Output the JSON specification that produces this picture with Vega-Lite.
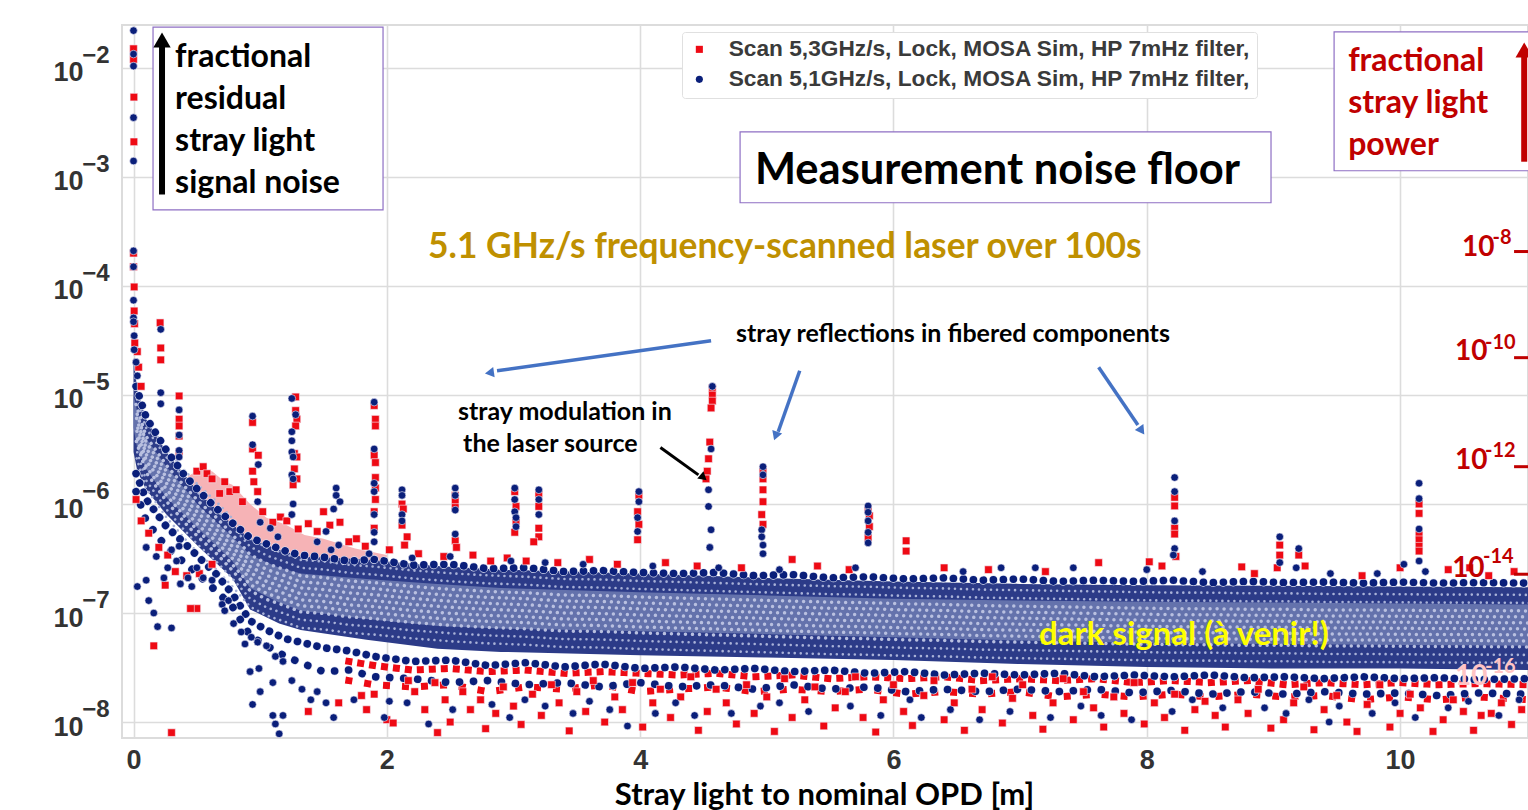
{"$schema":"https://vega.github.io/schema/vega-lite/v6.json","width":1406,"height":713,"autosize":{"type":"none"},"padding":{"left":122,"top":25,"right":0,"bottom":72},"background":"white",
"config":{"view":{"stroke":"#dcdcdc","strokeWidth":2},"font":"Lato"},
"datasets":{
"band":[{"x":0.0,"hi":2.2e-5,"lo":3e-6,"ih":1e-5,"il":5e-6},{"x":0.03,"hi":1.1e-5,"lo":2e-6,"ih":7e-6,"il":3.2e-6},{"x":0.1,"hi":6e-6,"lo":1.35e-6,"ih":4e-6,"il":2.1e-6},{"x":0.26,"hi":3e-6,"lo":8e-7,"ih":2.2e-6,"il":1.15e-6},{"x":0.52,"hi":1.25e-6,"lo":4e-7,"ih":9.5e-7,"il":5.8e-7},{"x":0.78,"hi":6.5e-7,"lo":2.1e-7,"ih":5e-7,"il":3e-7},{"x":0.92,"hi":4.8e-7,"lo":1.08e-7,"ih":3.4e-7,"il":1.7e-7},{"x":1.15,"hi":3.8e-7,"lo":8e-8,"ih":2.6e-7,"il":1.25e-7},{"x":1.32,"hi":3.3e-7,"lo":7e-8,"ih":2.3e-7,"il":1.05e-7},{"x":1.84,"hi":3.1e-7,"lo":5.7e-8,"ih":2.05e-7,"il":8.8e-8},{"x":2.4,"hi":2.7e-7,"lo":4.7e-8,"ih":1.85e-7,"il":7.6e-8},{"x":2.9,"hi":2.5e-7,"lo":4.4e-8,"ih":1.7e-7,"il":7.2e-8},{"x":4,"hi":2.3e-7,"lo":4.1e-8,"ih":1.55e-7,"il":6.8e-8},{"x":5,"hi":2.1e-7,"lo":3.9e-8,"ih":1.45e-7,"il":6.4e-8},{"x":6,"hi":1.95e-7,"lo":3.7e-8,"ih":1.35e-7,"il":6e-8},{"x":7,"hi":1.85e-7,"lo":3.4e-8,"ih":1.3e-7,"il":5.6e-8},{"x":8,"hi":1.8e-7,"lo":3.2e-8,"ih":1.27e-7,"il":5.3e-8},{"x":9,"hi":1.78e-7,"lo":3.1e-8,"ih":1.25e-7,"il":5.2e-8},{"x":10,"hi":1.75e-7,"lo":3.1e-8,"ih":1.22e-7,"il":5.1e-8},{"x":11.02,"hi":1.72e-7,"lo":3e-8,"ih":1.2e-7,"il":5e-8}],
"st":[{"x":0.02,"m":5.6e-6,"u":1.2e-5,"f1":1.9e-6,"f2":1.3e-6},{"x":0.1,"m":2.85e-6,"u":6.2e-6,"f1":1.1e-6,"f2":7e-7},{"x":0.26,"m":1.55e-6,"u":3.1e-6,"f1":6.2e-7,"f2":4e-7},{"x":0.4,"m":1e-6,"u":1.85e-6,"f1":4.4e-7,"f2":2.9e-7},{"x":0.52,"m":7.1e-7,"u":1.3e-6,"f1":3.2e-7,"f2":2.2e-7},{"x":0.65,"m":5.2e-7,"u":9.2e-7,"f1":2.3e-7,"f2":1.6e-7},{"x":0.78,"m":3.6e-7,"u":6.7e-7,"f1":1.5e-7,"f2":1.15e-7},{"x":0.92,"m":2.35e-7,"u":4.9e-7,"f1":8.5e-8,"f2":6.2e-8},{"x":1.05,"m":1.95e-7,"u":4.3e-7,"f1":7e-8,"f2":5e-8},{"x":1.2,"m":1.7e-7,"u":3.7e-7,"f1":5.8e-8,"f2":4e-8},{"x":1.32,"m":1.5e-7,"u":3.4e-7,"f1":5.4e-8,"f2":3.5e-8},{"x":1.5,"m":1.45e-7,"u":3.25e-7,"f1":4.8e-8,"f2":2.9e-8},{"x":1.7,"m":1.35e-7,"u":3e-7,"f1":4.5e-8,"f2":3e-8,"r1":3.6e-8,"r2":2.4e-8},{"x":1.9,"m":1.3e-7,"u":3.1e-7,"f1":4e-8,"f2":2.6e-8,"r1":3.3e-8,"r2":2.2e-8},{"x":2.2,"m":1.2e-7,"u":2.75e-7,"f1":3.6e-8,"f2":2.5e-8,"r1":3e-8,"r2":2.1e-8},{"x":2.5,"m":1.13e-7,"u":2.8e-7,"f1":3.7e-8,"f2":2.3e-8,"r1":3.1e-8,"r2":2.2e-8},{"x":2.8,"m":1.08e-7,"u":2.55e-7,"f1":3.3e-8,"f2":2.4e-8,"r1":2.9e-8,"r2":1.9e-8},{"x":3.1,"m":1.05e-7,"u":2.6e-7,"f1":3.5e-8,"f2":2.2e-8,"r1":3e-8,"r2":2.1e-8},{"x":3.4,"m":1e-7,"u":2.4e-7,"f1":3.2e-8,"f2":2.3e-8,"r1":2.8e-8,"r2":2e-8},{"x":3.7,"m":9.9e-8,"u":2.45e-7,"f1":3.4e-8,"f2":2.1e-8,"r1":2.9e-8,"r2":2.2e-8},{"x":4,"m":9.6e-8,"u":2.35e-7,"f1":3.1e-8,"f2":2.3e-8,"r1":2.8e-8,"r2":1.9e-8},{"x":4.3,"m":9.4e-8,"u":2.3e-7,"f1":3.2e-8,"f2":2.1e-8,"r1":2.7e-8,"r2":2e-8},{"x":4.6,"m":9.2e-8,"u":2.35e-7,"f1":3e-8,"f2":2.2e-8,"r1":2.8e-8,"r2":2.1e-8},{"x":4.9,"m":9e-8,"u":2.2e-7,"f1":3.1e-8,"f2":2e-8,"r1":2.6e-8,"r2":1.9e-8},{"x":5.2,"m":8.8e-8,"u":2.25e-7,"f1":2.9e-8,"f2":2.2e-8,"r1":2.7e-8,"r2":2e-8},{"x":5.5,"m":8.6e-8,"u":2.1e-7,"f1":3e-8,"f2":2e-8,"r1":2.5e-8,"r2":1.9e-8},{"x":5.8,"m":8.5e-8,"u":2.15e-7,"f1":2.8e-8,"f2":2.1e-8,"r1":2.6e-8,"r2":2e-8},{"x":6.1,"m":8.3e-8,"u":2.05e-7,"f1":2.9e-8,"f2":1.9e-8,"r1":2.5e-8,"r2":1.8e-8},{"x":6.4,"m":8.2e-8,"u":2.1e-7,"f1":2.7e-8,"f2":2e-8,"r1":2.6e-8,"r2":1.9e-8},{"x":6.7,"m":8e-8,"u":2e-7,"f1":2.8e-8,"f2":1.9e-8,"r1":2.4e-8,"r2":1.8e-8},{"x":7,"m":7.9e-8,"u":2.05e-7,"f1":2.7e-8,"f2":2e-8,"r1":2.5e-8,"r2":1.9e-8},{"x":7.3,"m":7.8e-8,"u":1.95e-7,"f1":2.8e-8,"f2":1.9e-8,"r1":2.4e-8,"r2":1.7e-8},{"x":7.6,"m":7.7e-8,"u":2e-7,"f1":2.6e-8,"f2":2e-8,"r1":2.5e-8,"r2":1.8e-8},{"x":7.9,"m":7.6e-8,"u":1.95e-7,"f1":2.7e-8,"f2":1.85e-8,"r1":2.3e-8,"r2":1.7e-8},{"x":8.2,"m":7.5e-8,"u":2e-7,"f1":2.6e-8,"f2":1.95e-8,"r1":2.4e-8,"r2":1.8e-8},{"x":8.5,"m":7.5e-8,"u":1.9e-7,"f1":2.7e-8,"f2":1.8e-8,"r1":2.3e-8,"r2":1.7e-8},{"x":8.8,"m":7.4e-8,"u":1.95e-7,"f1":2.55e-8,"f2":1.9e-8,"r1":2.4e-8,"r2":1.8e-8},{"x":9.1,"m":7.4e-8,"u":1.9e-7,"f1":2.6e-8,"f2":1.8e-8,"r1":2.2e-8,"r2":1.7e-8},{"x":9.4,"m":7.3e-8,"u":1.92e-7,"f1":2.5e-8,"f2":1.9e-8,"r1":2.3e-8,"r2":1.75e-8},{"x":9.7,"m":7.3e-8,"u":1.88e-7,"f1":2.6e-8,"f2":1.8e-8,"r1":2.2e-8,"r2":1.6e-8},{"x":10,"m":7.25e-8,"u":1.92e-7,"f1":2.5e-8,"f2":1.85e-8,"r1":2.3e-8,"r2":1.7e-8},{"x":10.3,"m":7.2e-8,"u":1.88e-7,"f1":2.55e-8,"f2":1.75e-8,"r1":2.2e-8,"r2":1.6e-8},{"x":10.6,"m":7.2e-8,"u":1.9e-7,"f1":2.45e-8,"f2":1.85e-8,"r1":2.25e-8,"r2":1.7e-8},{"x":11.02,"m":7.15e-8,"u":1.88e-7,"f1":2.5e-8,"f2":1.8e-8,"r1":2.2e-8,"r2":1.6e-8}],
"pink":[{"x":0.4,"hi":1.7e-6,"lo":1.2e-6},{"x":0.52,"hi":2.1e-6,"lo":1e-6},{"x":0.62,"hi":2e-6,"lo":8e-7},{"x":0.72,"hi":1.6e-6,"lo":6e-7},{"x":0.78,"hi":1.5e-6,"lo":5e-7},{"x":0.92,"hi":1e-6,"lo":4e-7},{"x":1.05,"hi":7.5e-7,"lo":3.5e-7},{"x":1.2,"hi":6.5e-7,"lo":3.2e-7},{"x":1.35,"hi":5.2e-7,"lo":3e-7},{"x":1.5,"hi":4.8e-7,"lo":2.9e-7},{"x":1.75,"hi":3.9e-7,"lo":2.8e-7},{"x":2,"hi":3.4e-7,"lo":2.6e-7}],
"pts":[
{"x":0,"y":1.5e-2,"s":"r"},{"x":0,"y":1.2e-2,"s":"r"},{"x":0.003,"y":5.4e-3,"s":"r"},{"x":0.003,"y":2.1e-3,"s":"r"},{"x":0,"y":2e-4,"s":"r"},{"x":0,"y":1.5e-4,"s":"r"},{"x":0.005,"y":9.8e-5,"s":"r"},{"x":0.005,"y":5.9e-5,"s":"r"},{"x":0.008,"y":4.5e-5,"s":"r"},{"x":0.01,"y":3e-5,"s":"r"},{"x":0.03,"y":2.5e-5,"s":"r"},{"x":0.04,"y":1.8e-5,"s":"r"},{"x":0.06,"y":1.2e-5,"s":"r"},
{"x":0.21,"y":4.6e-5,"s":"r"},{"x":0.215,"y":2.7e-5,"s":"r"},{"x":0.215,"y":2.1e-5,"s":"r"},{"x":0.36,"y":9.8e-6,"s":"r"},{"x":0.36,"y":6e-6,"s":"r"},{"x":0.36,"y":5.2e-6,"s":"r"},{"x":0.36,"y":4.2e-6,"s":"r"},{"x":0.36,"y":3e-6,"s":"r"},{"x":0.94,"y":5.6e-6,"s":"r"},{"x":0.94,"y":3.2e-6,"s":"r"},{"x":0.985,"y":2.8e-6,"s":"r"},{"x":0.94,"y":2e-6,"s":"r"},{"x":0.95,"y":1.6e-6,"s":"r"},{"x":0.98,"y":1.3e-6,"s":"r"},{"x":1.28,"y":9.6e-6,"s":"r"},{"x":1.28,"y":7.2e-6,"s":"r"},{"x":1.29,"y":6e-6,"s":"r"},{"x":1.28,"y":5.2e-6,"s":"r"},{"x":1.27,"y":2.9e-6,"s":"r"},{"x":1.29,"y":2.7e-6,"s":"r"},{"x":1.27,"y":2.1e-6,"s":"r"},{"x":1.29,"y":1.7e-6,"s":"r"},{"x":1.26,"y":1.5e-6,"s":"r"},
{"x":1.9,"y":8e-6,"s":"r"},{"x":1.91,"y":6e-6,"s":"r"},{"x":1.91,"y":5.2e-6,"s":"r"},{"x":1.9,"y":2.8e-6,"s":"r"},{"x":1.91,"y":2.4e-6,"s":"r"},{"x":1.91,"y":1.75e-6,"s":"r"},{"x":1.91,"y":1.4e-6,"s":"r"},{"x":1.91,"y":1.1e-6,"s":"r"},{"x":1.9,"y":8.5e-7,"s":"r"},{"x":1.9,"y":6e-7,"s":"r"},{"x":2.12,"y":1e-6,"s":"r"},{"x":2.13,"y":9e-7,"s":"r"},{"x":2.12,"y":6.4e-7,"s":"r"},{"x":2.16,"y":5e-7,"s":"r"},{"x":2.14,"y":4.2e-7,"s":"r"},{"x":2.54,"y":1.2e-6,"s":"r"},{"x":2.54,"y":1.05e-6,"s":"r"},{"x":2.54,"y":9.3e-7,"s":"r"},{"x":2.54,"y":4.6e-7,"s":"r"},{"x":2.55,"y":4e-7,"s":"r"},{"x":3.01,"y":1.3e-6,"s":"r"},{"x":3.02,"y":9.5e-7,"s":"r"},{"x":3.02,"y":7e-7,"s":"r"},{"x":3.01,"y":5.5e-7,"s":"r"},{"x":3.2,"y":1.25e-6,"s":"r"},{"x":3.2,"y":9.5e-7,"s":"r"},{"x":3.2,"y":6e-7,"s":"r"},{"x":3.2,"y":5e-7,"s":"r"},{"x":3.16,"y":4.5e-7,"s":"r"},{"x":3.99,"y":1.2e-6,"s":"r"},{"x":3.98,"y":8.5e-7,"s":"r"},{"x":3.99,"y":6.5e-7,"s":"r"},{"x":3.98,"y":4.7e-7,"s":"r"},
{"x":4.57,"y":1.15e-5,"s":"r"},{"x":4.57,"y":1e-5,"s":"r"},{"x":4.57,"y":8.8e-6,"s":"r"},{"x":4.56,"y":7.6e-6,"s":"r"},{"x":4.55,"y":3.7e-6,"s":"r"},{"x":4.54,"y":2.6e-6,"s":"r"},{"x":4.53,"y":2e-6,"s":"r"},{"x":4.52,"y":1.7e-6,"s":"r"},{"x":4.97,"y":2.05e-6,"s":"r"},{"x":4.97,"y":1.7e-6,"s":"r"},{"x":4.97,"y":1.35e-6,"s":"r"},{"x":4.97,"y":1.05e-6,"s":"r"},{"x":4.96,"y":8e-7,"s":"r"},{"x":4.97,"y":6.5e-7,"s":"r"},{"x":5.8,"y":9e-7,"s":"r"},{"x":5.81,"y":7.8e-7,"s":"r"},{"x":5.81,"y":6.2e-7,"s":"r"},{"x":5.8,"y":4.9e-7,"s":"r"},{"x":6.1,"y":4.6e-7,"s":"r"},{"x":6.1,"y":3.7e-7,"s":"r"},{"x":5.2,"y":3.1e-7,"s":"r"},
{"x":8.22,"y":1.15e-6,"s":"r"},{"x":8.22,"y":9.6e-7,"s":"r"},{"x":8.22,"y":6e-7,"s":"r"},{"x":8.22,"y":5.3e-7,"s":"r"},{"x":8.23,"y":3.3e-7,"s":"r"},{"x":9.05,"y":4.2e-7,"s":"r"},{"x":9.05,"y":3.4e-7,"s":"r"},{"x":9.03,"y":2.6e-7,"s":"r"},{"x":9.2,"y":3.4e-7,"s":"r"},{"x":9.25,"y":2.7e-7,"s":"r"},{"x":10.15,"y":1e-6,"s":"r"},{"x":10.15,"y":8.2e-7,"s":"r"},{"x":10.15,"y":5.2e-7,"s":"r"},{"x":10.15,"y":4.7e-7,"s":"r"},{"x":10.15,"y":4.1e-7,"s":"r"},{"x":10.15,"y":3.7e-7,"s":"r"},
{"x":0.5,"y":2e-6,"s":"r"},{"x":0.55,"y":2.2e-6,"s":"r"},{"x":0.58,"y":1.9e-6,"s":"r"},{"x":0.62,"y":1.7e-6,"s":"r"},{"x":0.68,"y":1.25e-6,"s":"r"},{"x":0.72,"y":1.6e-6,"s":"r"},{"x":0.76,"y":1.3e-6,"s":"r"},{"x":0.81,"y":1.35e-6,"s":"r"},{"x":0.86,"y":1.05e-6,"s":"r"},{"x":1.02,"y":8.5e-7,"s":"r"},{"x":1.1,"y":6.8e-7,"s":"r"},{"x":1.16,"y":7.6e-7,"s":"r"},{"x":1.21,"y":7e-7,"s":"r"},{"x":1.3,"y":5.9e-7,"s":"r"},{"x":1.38,"y":6.6e-7,"s":"r"},{"x":1.45,"y":5.6e-7,"s":"r"},{"x":1.5,"y":8.5e-7,"s":"r"},{"x":1.55,"y":6.4e-7,"s":"r"},{"x":1.63,"y":6.8e-7,"s":"r"},{"x":1.7,"y":4.5e-7,"s":"r"},{"x":1.76,"y":4.8e-7,"s":"r"},{"x":1.83,"y":4.1e-7,"s":"r"},{"x":2.02,"y":3.8e-7,"s":"r"},{"x":2.25,"y":3.5e-7,"s":"r"},{"x":2.45,"y":3.3e-7,"s":"r"},{"x":2.68,"y":3.4e-7,"s":"r"},{"x":2.82,"y":3e-7,"s":"r"},{"x":2.95,"y":3.2e-7,"s":"r"},{"x":3.1,"y":3e-7,"s":"r"},{"x":3.35,"y":2.9e-7,"s":"r"},{"x":3.6,"y":3.1e-7,"s":"r"},{"x":3.82,"y":2.8e-7,"s":"r"},{"x":4.2,"y":2.9e-7,"s":"r"},{"x":4.45,"y":2.7e-7,"s":"r"},{"x":4.8,"y":2.6e-7,"s":"r"},{"x":5.4,"y":2.7e-7,"s":"r"},{"x":5.65,"y":2.5e-7,"s":"r"},{"x":6.4,"y":2.6e-7,"s":"r"},{"x":6.75,"y":2.5e-7,"s":"r"},{"x":7.2,"y":2.4e-7,"s":"r"},{"x":7.62,"y":2.9e-7,"s":"r"},{"x":8.02,"y":2.95e-7,"s":"r"},{"x":8.12,"y":2.7e-7,"s":"r"},{"x":8.75,"y":2.65e-7,"s":"r"},{"x":8.85,"y":2.3e-7,"s":"r"},{"x":9.7,"y":2.2e-7,"s":"r"},{"x":10.0,"y":2.6e-7,"s":"r"},{"x":10.38,"y":2.5e-7,"s":"r"},{"x":10.55,"y":2.6e-7,"s":"r"},{"x":10.7,"y":2.2e-7,"s":"r"},{"x":10.9,"y":2.4e-7,"s":"r"},
{"x":0.02,"y":1.1e-6,"s":"r"},{"x":0.06,"y":7e-7,"s":"r"},{"x":0.12,"y":5.4e-7,"s":"r"},{"x":0.2,"y":4e-7,"s":"r"},{"x":0.27,"y":3.4e-7,"s":"r"},{"x":0.33,"y":2.4e-7,"s":"r"},{"x":0.42,"y":2.2e-7,"s":"r"},{"x":0.52,"y":2.3e-7,"s":"r"},{"x":0.62,"y":2.8e-7,"s":"r"},{"x":0.25,"y":1.8e-7,"s":"r"},{"x":0.5,"y":1.1e-7,"s":"r"},{"x":0.45,"y":1.1e-7,"s":"r"},{"x":0.16,"y":5e-8,"s":"r"},{"x":0.3,"y":8e-9,"s":"r"},
{"x":1.38,"y":1.25e-8,"s":"r"},{"x":1.62,"y":1.5e-8,"s":"r"},{"x":1.8,"y":1.75e-8,"s":"r"},{"x":1.84,"y":1.3e-8,"s":"r"},{"x":1.9,"y":1.8e-8,"s":"r"},{"x":2.0,"y":1.05e-8,"s":"r"},{"x":2.05,"y":9.8e-9,"s":"r"},{"x":2.17,"y":2.4e-8,"s":"r"},{"x":2.22,"y":1.9e-8,"s":"r"},{"x":2.3,"y":1.3e-8,"s":"r"},{"x":2.38,"y":2.3e-8,"s":"r"},{"x":2.46,"y":1.6e-8,"s":"r"},{"x":2.5,"y":1e-8,"s":"r"},{"x":2.4,"y":8e-9,"s":"r"},{"x":2.6,"y":1.9e-8,"s":"r"},{"x":2.66,"y":1.3e-8,"s":"r"},{"x":2.74,"y":1.6e-8,"s":"r"},{"x":2.78,"y":8.7e-9,"s":"r"},{"x":2.86,"y":1.2e-8,"s":"r"},{"x":2.92,"y":2.1e-8,"s":"r"},{"x":3.0,"y":1.4e-8,"s":"r"},{"x":3.06,"y":9.5e-9,"s":"r"},{"x":3.15,"y":1.8e-8,"s":"r"},{"x":3.22,"y":1.15e-8,"s":"r"},{"x":3.3,"y":2.2e-8,"s":"r"},{"x":3.36,"y":1.5e-8,"s":"r"},{"x":3.44,"y":8.3e-9,"s":"r"},{"x":3.5,"y":1.9e-8,"s":"r"},{"x":3.57,"y":1.25e-8,"s":"r"},{"x":3.63,"y":2.4e-8,"s":"r"},{"x":3.72,"y":1e-8,"s":"r"},{"x":3.8,"y":1.7e-8,"s":"r"},{"x":3.86,"y":1.3e-8,"s":"r"},{"x":3.94,"y":2.3e-8,"s":"r"},{"x":4.02,"y":9e-9,"s":"r"},{"x":4.1,"y":1.5e-8,"s":"r"},{"x":4.16,"y":2e-8,"s":"r"},{"x":4.24,"y":1.1e-8,"s":"r"},{"x":4.32,"y":1.7e-8,"s":"r"},{"x":4.4,"y":2.6e-8,"s":"r"},{"x":4.46,"y":8.4e-9,"s":"r"},{"x":4.53,"y":1.25e-8,"s":"r"},{"x":4.6,"y":2e-8,"s":"r"},{"x":4.68,"y":1.5e-8,"s":"r"},{"x":4.76,"y":9.6e-9,"s":"r"},{"x":4.84,"y":2.2e-8,"s":"r"},{"x":4.9,"y":1.2e-8,"s":"r"},{"x":5.0,"y":1.7e-8,"s":"r"},{"x":5.06,"y":8.2e-9,"s":"r"},{"x":5.14,"y":2.5e-8,"s":"r"},{"x":5.2,"y":1.1e-8,"s":"r"},{"x":5.3,"y":1.6e-8,"s":"r"},{"x":5.38,"y":2.1e-8,"s":"r"},{"x":5.45,"y":9.2e-9,"s":"r"},{"x":5.54,"y":1.35e-8,"s":"r"},{"x":5.62,"y":1.9e-8,"s":"r"},{"x":5.7,"y":2.6e-8,"s":"r"},{"x":5.76,"y":1.1e-8,"s":"r"},{"x":5.86,"y":8.1e-9,"s":"r"},{"x":5.92,"y":1.6e-8,"s":"r"},{"x":6.0,"y":2.2e-8,"s":"r"},{"x":6.08,"y":1.25e-8,"s":"r"},{"x":6.15,"y":9.3e-9,"s":"r"},{"x":6.24,"y":1.75e-8,"s":"r"},{"x":6.32,"y":2.4e-8,"s":"r"},{"x":6.4,"y":1.05e-8,"s":"r"},{"x":6.48,"y":1.5e-8,"s":"r"},{"x":6.56,"y":8.4e-9,"s":"r"},{"x":6.62,"y":2e-8,"s":"r"},{"x":6.7,"y":1.3e-8,"s":"r"},{"x":6.78,"y":2.6e-8,"s":"r"},{"x":6.86,"y":9.8e-9,"s":"r"},{"x":6.94,"y":1.65e-8,"s":"r"},{"x":7.02,"y":2.2e-8,"s":"r"},{"x":7.1,"y":1.15e-8,"s":"r"},{"x":7.18,"y":8.6e-9,"s":"r"},{"x":7.26,"y":1.5e-8,"s":"r"},{"x":7.34,"y":2.5e-8,"s":"r"},{"x":7.42,"y":1.05e-8,"s":"r"},{"x":7.5,"y":1.9e-8,"s":"r"},{"x":7.58,"y":1.35e-8,"s":"r"},{"x":7.66,"y":9e-9,"s":"r"},{"x":7.74,"y":1.7e-8,"s":"r"},{"x":7.82,"y":1.2e-8,"s":"r"},{"x":7.9,"y":2.3e-8,"s":"r"},{"x":7.98,"y":9.6e-9,"s":"r"},{"x":8.06,"y":1.5e-8,"s":"r"},{"x":8.14,"y":1.1e-8,"s":"r"},{"x":8.22,"y":1.8e-8,"s":"r"},{"x":8.3,"y":8.4e-9,"s":"r"},{"x":8.38,"y":1.3e-8,"s":"r"},{"x":8.46,"y":1.55e-8,"s":"r"},{"x":8.54,"y":1.15e-8,"s":"r"},{"x":8.62,"y":9e-9,"s":"r"},{"x":8.72,"y":1.6e-8,"s":"r"},{"x":8.8,"y":1.2e-8,"s":"r"},{"x":8.88,"y":2e-8,"s":"r"},{"x":8.98,"y":8.8e-9,"s":"r"},{"x":9.08,"y":1.05e-8,"s":"r"},{"x":9.16,"y":1.5e-8,"s":"r"},{"x":9.24,"y":2.1e-8,"s":"r"},{"x":9.32,"y":8.5e-9,"s":"r"},{"x":9.4,"y":1.3e-8,"s":"r"},{"x":9.5,"y":1.75e-8,"s":"r"},{"x":9.58,"y":1e-8,"s":"r"},{"x":9.66,"y":8.2e-9,"s":"r"},{"x":9.74,"y":1.45e-8,"s":"r"},{"x":9.84,"y":2.2e-8,"s":"r"},{"x":9.92,"y":9e-9,"s":"r"},{"x":10.0,"y":1.2e-8,"s":"r"},{"x":10.08,"y":1.8e-8,"s":"r"},{"x":10.16,"y":1.35e-8,"s":"r"},{"x":10.26,"y":8.2e-9,"s":"r"},{"x":10.34,"y":1.05e-8,"s":"r"},{"x":10.42,"y":1.6e-8,"s":"r"},{"x":10.5,"y":1.25e-8,"s":"r"},{"x":10.58,"y":8.4e-9,"s":"r"},{"x":10.64,"y":1.15e-8,"s":"r"},{"x":10.72,"y":1.2e-8,"s":"r"},{"x":10.8,"y":1.5e-8,"s":"r"},{"x":10.88,"y":9.5e-9,"s":"r"},{"x":10.96,"y":1.3e-8,"s":"r"},
{"x":0,"y":2.2e-2,"s":"b"},{"x":0,"y":1.34e-2,"s":"b"},{"x":0,"y":1.04e-2,"s":"b"},{"x":0,"y":3.5e-3,"s":"b"},{"x":0,"y":1.4e-3,"s":"b"},{"x":0,"y":2.1e-4,"s":"b"},{"x":0,"y":1.5e-4,"s":"b"},{"x":0,"y":7.4e-5,"s":"b"},{"x":0,"y":5.1e-5,"s":"b"},{"x":0,"y":4.7e-5,"s":"b"},{"x":0.005,"y":3.5e-5,"s":"b"},{"x":0.005,"y":2.6e-5,"s":"b"},{"x":0.02,"y":2e-5,"s":"b"},{"x":0.03,"y":1.5e-5,"s":"b"},{"x":0.215,"y":4e-5,"s":"b"},{"x":0.215,"y":1.05e-5,"s":"b"},{"x":0.215,"y":8.3e-6,"s":"b"},{"x":0.36,"y":7.3e-6,"s":"b"},{"x":0.36,"y":4.3e-6,"s":"b"},{"x":0.36,"y":3.1e-6,"s":"b"},{"x":0.36,"y":2.7e-6,"s":"b"},{"x":0.94,"y":6.4e-6,"s":"b"},{"x":0.94,"y":3.5e-6,"s":"b"},{"x":0.985,"y":2.3e-6,"s":"b"},{"x":0.98,"y":1.05e-6,"s":"b"},{"x":1.25,"y":9.3e-6,"s":"b"},{"x":1.28,"y":6.6e-6,"s":"b"},{"x":1.25,"y":4.6e-6,"s":"b"},{"x":1.25,"y":3.8e-6,"s":"b"},{"x":1.25,"y":3e-6,"s":"b"},{"x":1.26,"y":2.7e-6,"s":"b"},{"x":1.25,"y":1.85e-6,"s":"b"},{"x":1.26,"y":1.7e-6,"s":"b"},{"x":1.26,"y":1e-6,"s":"b"},{"x":1.25,"y":8e-7,"s":"b"},{"x":1.6,"y":1.4e-6,"s":"b"},{"x":1.6,"y":1.2e-6,"s":"b"},{"x":1.63,"y":1.05e-6,"s":"b"},{"x":1.58,"y":9e-7,"s":"b"},{"x":1.9,"y":8.6e-6,"s":"b"},{"x":1.9,"y":3.2e-6,"s":"b"},{"x":1.9,"y":1.55e-6,"s":"b"},{"x":1.9,"y":1.3e-6,"s":"b"},{"x":1.9,"y":8e-7,"s":"b"},{"x":1.9,"y":5.5e-7,"s":"b"},{"x":1.9,"y":4.5e-7,"s":"b"},{"x":2.12,"y":1.35e-6,"s":"b"},{"x":2.12,"y":1.2e-6,"s":"b"},{"x":2.12,"y":8e-7,"s":"b"},{"x":2.12,"y":7e-7,"s":"b"},{"x":2.54,"y":1.4e-6,"s":"b"},{"x":2.54,"y":1.2e-6,"s":"b"},{"x":2.54,"y":8.8e-7,"s":"b"},{"x":2.54,"y":5.3e-7,"s":"b"},{"x":3.01,"y":1.4e-6,"s":"b"},{"x":3.01,"y":1.1e-6,"s":"b"},{"x":3.01,"y":8.5e-7,"s":"b"},{"x":3.02,"y":7.5e-7,"s":"b"},{"x":3.02,"y":6.2e-7,"s":"b"},{"x":3.2,"y":1.35e-6,"s":"b"},{"x":3.2,"y":1.1e-6,"s":"b"},{"x":3.2,"y":8e-7,"s":"b"},{"x":3.99,"y":1.3e-6,"s":"b"},{"x":3.99,"y":1.05e-6,"s":"b"},{"x":3.98,"y":7.5e-7,"s":"b"},{"x":3.98,"y":5.6e-7,"s":"b"},{"x":4.57,"y":1.2e-5,"s":"b"},{"x":4.56,"y":3.2e-6,"s":"b"},{"x":4.54,"y":1.35e-6,"s":"b"},{"x":4.54,"y":9.5e-7,"s":"b"},{"x":4.56,"y":5.8e-7,"s":"b"},{"x":4.55,"y":4e-7,"s":"b"},{"x":4.97,"y":2.2e-6,"s":"b"},{"x":4.97,"y":1.85e-6,"s":"b"},{"x":4.96,"y":5.8e-7,"s":"b"},{"x":4.96,"y":5e-7,"s":"b"},{"x":4.97,"y":4.2e-7,"s":"b"},{"x":4.97,"y":3.5e-7,"s":"b"},{"x":5.8,"y":9.6e-7,"s":"b"},{"x":5.8,"y":8.4e-7,"s":"b"},{"x":5.8,"y":7e-7,"s":"b"},{"x":5.8,"y":5.5e-7,"s":"b"},{"x":5.8,"y":4.4e-7,"s":"b"},{"x":8.22,"y":1.75e-6,"s":"b"},{"x":8.22,"y":1.3e-6,"s":"b"},{"x":8.22,"y":7e-7,"s":"b"},{"x":8.22,"y":3.9e-7,"s":"b"},{"x":8.21,"y":3.4e-7,"s":"b"},{"x":9.05,"y":5e-7,"s":"b"},{"x":9.05,"y":2.9e-7,"s":"b"},{"x":9.2,"y":3.9e-7,"s":"b"},{"x":9.18,"y":2.6e-7,"s":"b"},{"x":10.15,"y":1.55e-6,"s":"b"},{"x":10.15,"y":1.12e-6,"s":"b"},{"x":10.15,"y":5.9e-7,"s":"b"},{"x":10.15,"y":3e-7,"s":"b"},{"x":10.03,"y":2.8e-7,"s":"b"},{"x":10.2,"y":2.4e-7,"s":"b"},
{"x":1.0,"y":6.8e-7,"s":"b"},{"x":1.08,"y":6e-7,"s":"b"},{"x":1.14,"y":5e-7,"s":"b"},{"x":1.45,"y":4.5e-7,"s":"b"},{"x":1.52,"y":5.6e-7,"s":"b"},{"x":1.56,"y":3.8e-7,"s":"b"},{"x":1.62,"y":4.2e-7,"s":"b"},{"x":1.86,"y":3.5e-7,"s":"b"},{"x":2.2,"y":3.2e-7,"s":"b"},{"x":2.5,"y":3.3e-7,"s":"b"},{"x":2.98,"y":3e-7,"s":"b"},{"x":3.25,"y":2.9e-7,"s":"b"},{"x":3.55,"y":2.8e-7,"s":"b"},{"x":4.1,"y":2.7e-7,"s":"b"},{"x":4.62,"y":2.6e-7,"s":"b"},{"x":5.1,"y":2.5e-7,"s":"b"},{"x":5.7,"y":2.6e-7,"s":"b"},{"x":6.55,"y":2.4e-7,"s":"b"},{"x":6.85,"y":2.6e-7,"s":"b"},{"x":7.12,"y":2.6e-7,"s":"b"},{"x":7.42,"y":2.6e-7,"s":"b"},{"x":8.0,"y":2.5e-7,"s":"b"},{"x":8.44,"y":2.4e-7,"s":"b"},{"x":9.45,"y":2.3e-7,"s":"b"},{"x":9.82,"y":2.3e-7,"s":"b"},
{"x":0.1,"y":4e-7,"s":"b"},{"x":0.18,"y":3.3e-7,"s":"b"},{"x":0.3,"y":3.8e-7,"s":"b"},{"x":0.36,"y":4.1e-7,"s":"b"},{"x":0.34,"y":3e-7,"s":"b"},{"x":0.27,"y":2.6e-7,"s":"b"},{"x":0.24,"y":2.1e-7,"s":"b"},{"x":0.37,"y":1.85e-7,"s":"b"},{"x":0.43,"y":2.1e-7,"s":"b"},{"x":0.46,"y":1.75e-7,"s":"b"},{"x":0.5,"y":2.6e-7,"s":"b"},{"x":0.55,"y":2.1e-7,"s":"b"},{"x":0.62,"y":2e-7,"s":"b"},{"x":0.03,"y":1.75e-7,"s":"b"},{"x":0.1,"y":2e-7,"s":"b"},{"x":0.16,"y":1e-7,"s":"b"},{"x":0.12,"y":1.3e-7,"s":"b"},{"x":0.19,"y":7.5e-8,"s":"b"},{"x":0.3,"y":7.3e-8,"s":"b"},{"x":0.7,"y":1.2e-7,"s":"b"},{"x":0.72,"y":1.05e-7,"s":"b"},{"x":0.75,"y":1.3e-7,"s":"b"},{"x":0.79,"y":8e-8,"s":"b"},{"x":0.85,"y":6.7e-8,"s":"b"},{"x":0.88,"y":5.2e-8,"s":"b"},{"x":0.93,"y":6e-8,"s":"b"},{"x":0.98,"y":5.4e-8,"s":"b"},{"x":1.05,"y":5e-8,"s":"b"},{"x":0.92,"y":2.9e-8,"s":"b"},{"x":0.99,"y":3.1e-8,"s":"b"},{"x":1.0,"y":1.9e-8,"s":"b"},{"x":0.94,"y":1.45e-8,"s":"b"},{"x":1.1,"y":2.3e-8,"s":"b"},{"x":1.12,"y":4e-8,"s":"b"},{"x":1.18,"y":3.6e-8,"s":"b"},{"x":1.12,"y":9.6e-9,"s":"b"},{"x":1.18,"y":1.15e-8,"s":"b"},{"x":1.1,"y":1.15e-8,"s":"b"},{"x":1.15,"y":7.8e-9,"s":"b"},{"x":1.25,"y":2.4e-8,"s":"b"},{"x":1.33,"y":2e-8,"s":"b"},{"x":1.4,"y":1.6e-8,"s":"b"},{"x":1.45,"y":1.9e-8,"s":"b"},{"x":1.52,"y":1.5e-8,"s":"b"},{"x":1.58,"y":1.1e-8,"s":"b"},{"x":1.74,"y":1.6e-8,"s":"b"},{"x":1.98,"y":1.1e-8,"s":"b"},{"x":2.02,"y":1.55e-8,"s":"b"},{"x":2.16,"y":1.5e-8,"s":"b"},{"x":2.33,"y":9.6e-9,"s":"b"},{"x":2.52,"y":1.3e-8,"s":"b"},{"x":2.83,"y":1.45e-8,"s":"b"},{"x":2.97,"y":1.1e-8,"s":"b"},{"x":3.09,"y":1.6e-8,"s":"b"},{"x":3.25,"y":1.4e-8,"s":"b"},{"x":3.47,"y":1.2e-8,"s":"b"},{"x":3.6,"y":1.55e-8,"s":"b"},{"x":3.76,"y":1.3e-8,"s":"b"},{"x":3.9,"y":9.2e-9,"s":"b"},{"x":4.12,"y":1.2e-8,"s":"b"},{"x":4.28,"y":1.5e-8,"s":"b"},{"x":4.43,"y":1.15e-8,"s":"b"},{"x":4.72,"y":1.2e-8,"s":"b"},{"x":4.95,"y":1.4e-8,"s":"b"},{"x":5.1,"y":1.5e-8,"s":"b"},{"x":5.33,"y":1.25e-8,"s":"b"},{"x":5.66,"y":1.4e-8,"s":"b"},{"x":5.9,"y":1.15e-8,"s":"b"},{"x":6.13,"y":1.6e-8,"s":"b"},{"x":6.22,"y":1.1e-8,"s":"b"},{"x":6.45,"y":1.3e-8,"s":"b"},{"x":6.68,"y":1.05e-8,"s":"b"},{"x":6.92,"y":1.25e-8,"s":"b"},{"x":7.24,"y":1.1e-8,"s":"b"},{"x":7.48,"y":1.4e-8,"s":"b"},{"x":7.64,"y":1.15e-8,"s":"b"},{"x":7.88,"y":1.05e-8,"s":"b"},{"x":8.2,"y":1.25e-8,"s":"b"},{"x":8.36,"y":1.6e-8,"s":"b"},{"x":8.6,"y":1.35e-8,"s":"b"},{"x":8.93,"y":1.35e-8,"s":"b"},{"x":9.1,"y":1.2e-8,"s":"b"},{"x":9.28,"y":1.6e-8,"s":"b"},{"x":9.44,"y":1e-8,"s":"b"},{"x":9.52,"y":1.4e-8,"s":"b"},{"x":9.78,"y":1.2e-8,"s":"b"},{"x":9.96,"y":1.5e-8,"s":"b"},{"x":10.12,"y":1.1e-8,"s":"b"},{"x":10.38,"y":1.35e-8,"s":"b"},{"x":10.54,"y":1.55e-8,"s":"b"},{"x":10.78,"y":1.15e-8,"s":"b"},{"x":10.94,"y":1.6e-8,"s":"b"}
],
"dec":[{"v":1e-2,"sx":-0.296,"sy":1.29e-2,"t":"−2"},{"v":1e-3,"sx":-0.296,"sy":1.29e-3,"t":"−3"},{"v":1e-4,"sx":-0.296,"sy":1.29e-4,"t":"−4"},{"v":1e-5,"sx":-0.296,"sy":1.29e-5,"t":"−5"},{"v":1e-6,"sx":-0.296,"sy":1.29e-6,"t":"−6"},{"v":1e-7,"sx":-0.296,"sy":1.29e-7,"t":"−7"},{"v":1e-8,"sx":-0.296,"sy":1.29e-8,"t":"−8"}]
},
"layer":[
{"data":{"name":"pink"},"mark":{"type":"area","color":"#f6b3b6"},"encoding":{"x":{"field":"x","type":"quantitative","scale":{"domain":[-0.091,11.01],"nice":false,"zero":false},"title":"Stray light to nominal OPD [m]","axis":{"values":[0,2,4,6,8,10],"format":"d","grid":true,"gridColor":"#dcdcdc","gridWidth":1.6,"domain":false,"ticks":false,"labelFont":"Liberation Sans","labelFontWeight":"bold","labelFontSize":27,"labelColor":"#333333","labelPadding":9,"titleFont":"Lato","titleFontWeight":"bold","titleFontSize":31,"titleColor":"#000000","titleX":702,"titleY":66,"titleBaseline":"alphabetic","titleAnchor":"middle","titleAlign":"center"}},"y":{"field":"lo","type":"quantitative","scale":{"type":"log","domain":[7.14e-9,2.477e-2],"nice":false},"title":null,"axis":{"values":[1e-2,1e-3,1e-4,1e-5,1e-6,1e-7,1e-8],"labelExpr":"'10'","labelOverlap":false,"grid":true,"gridColor":"#dcdcdc","gridWidth":1.6,"domain":false,"ticks":false,"labelFont":"Liberation Sans","labelFontWeight":"bold","labelFontSize":27,"labelColor":"#333333","labelPadding":39,"labelOffset":5}},"y2":{"field":"hi"}}},
{"data":{"name":"pink"},"mark":{"type":"line","color":"#ee0a14","strokeWidth":7,"strokeCap":"square","strokeDash":[0.01,15]},"encoding":{"x":{"field":"x","type":"quantitative"},"y":{"field":"lo","type":"quantitative"}}},
{"data":{"name":"band"},"mark":{"type":"area","color":"#2c3b88"},"encoding":{"x":{"field":"x","type":"quantitative"},"y":{"field":"lo","type":"quantitative"},"y2":{"field":"hi"}}},
{"data":{"name":"band"},"mark":{"type":"area","color":"#6472ac"},"encoding":{"x":{"field":"x","type":"quantitative"},"y":{"field":"il","type":"quantitative"},"y2":{"field":"ih"}}},
{"data":{"name":"st"},"mark":{"type":"line","color":"#ee0a14","strokeWidth":7,"strokeCap":"square","strokeDash":[0.01,12],"clip":true},"encoding":{"x":{"field":"x","type":"quantitative"},"y":{"field":"r1","type":"quantitative"}}},
{"data":{"name":"st"},"mark":{"type":"line","color":"#ee0a14","strokeWidth":7,"strokeCap":"square","strokeDash":[0.01,19],"clip":true},"encoding":{"x":{"field":"x","type":"quantitative"},"y":{"field":"r2","type":"quantitative"}}},
{"data":{"name":"st"},"mark":{"type":"line","color":"#b9c0e0","strokeWidth":3.5,"strokeCap":"round","strokeDash":[0.01,7],"yOffset":-18,"clip":true},"encoding":{"x":{"field":"x","type":"quantitative"},"y":{"field":"m","type":"quantitative"}}},
{"data":{"name":"st"},"mark":{"type":"line","color":"#b9c0e0","strokeWidth":3.5,"strokeCap":"round","strokeDash":[0.01,7],"strokeDashOffset":3,"yOffset":-12,"clip":true},"encoding":{"x":{"field":"x","type":"quantitative"},"y":{"field":"m","type":"quantitative"}}},
{"data":{"name":"st"},"mark":{"type":"line","color":"#b9c0e0","strokeWidth":3.5,"strokeCap":"round","strokeDash":[0.01,7],"strokeDashOffset":5,"yOffset":-6,"clip":true},"encoding":{"x":{"field":"x","type":"quantitative"},"y":{"field":"m","type":"quantitative"}}},
{"data":{"name":"st"},"mark":{"type":"line","color":"#b9c0e0","strokeWidth":3.5,"strokeCap":"round","strokeDash":[0.01,7],"strokeDashOffset":1,"clip":true},"encoding":{"x":{"field":"x","type":"quantitative"},"y":{"field":"m","type":"quantitative"}}},
{"data":{"name":"st"},"mark":{"type":"line","color":"#b9c0e0","strokeWidth":3.5,"strokeCap":"round","strokeDash":[0.01,7],"strokeDashOffset":4,"yOffset":6,"clip":true},"encoding":{"x":{"field":"x","type":"quantitative"},"y":{"field":"m","type":"quantitative"}}},
{"data":{"name":"st"},"mark":{"type":"line","color":"#b9c0e0","strokeWidth":3.5,"strokeCap":"round","strokeDash":[0.01,7],"strokeDashOffset":2,"yOffset":12,"clip":true},"encoding":{"x":{"field":"x","type":"quantitative"},"y":{"field":"m","type":"quantitative"}}},
{"data":{"name":"st"},"mark":{"type":"line","color":"#b9c0e0","strokeWidth":3.5,"strokeCap":"round","strokeDash":[0.01,7],"strokeDashOffset":6,"yOffset":18,"clip":true},"encoding":{"x":{"field":"x","type":"quantitative"},"y":{"field":"m","type":"quantitative"}}},
{"data":{"name":"st"},"mark":{"type":"line","color":"#a9b2d8","strokeWidth":2.6,"strokeCap":"round","strokeDash":[0.01,6],"strokeDashOffset":3,"yOffset":-26,"clip":true},"encoding":{"x":{"field":"x","type":"quantitative"},"y":{"field":"m","type":"quantitative"}}},
{"data":{"name":"st"},"mark":{"type":"line","color":"#a9b2d8","strokeWidth":2.6,"strokeCap":"round","strokeDash":[0.01,6],"yOffset":-34,"clip":true},"encoding":{"x":{"field":"x","type":"quantitative"},"y":{"field":"m","type":"quantitative"}}},
{"data":{"name":"st"},"mark":{"type":"line","color":"#a9b2d8","strokeWidth":2.6,"strokeCap":"round","strokeDash":[0.01,6],"strokeDashOffset":2,"yOffset":26,"clip":true},"encoding":{"x":{"field":"x","type":"quantitative"},"y":{"field":"m","type":"quantitative"}}},
{"data":{"name":"st"},"mark":{"type":"line","color":"#a9b2d8","strokeWidth":2.6,"strokeCap":"round","strokeDash":[0.01,6],"strokeDashOffset":4,"yOffset":34,"clip":true},"encoding":{"x":{"field":"x","type":"quantitative"},"y":{"field":"m","type":"quantitative"}}},
{"data":{"name":"st"},"mark":{"type":"line","color":"#dfe3f3","strokeWidth":9,"strokeCap":"round","strokeDash":[0.01,10],"clip":true},"encoding":{"x":{"field":"x","type":"quantitative"},"y":{"field":"u","type":"quantitative"}}},
{"data":{"name":"st"},"mark":{"type":"line","color":"#0a1f7a","strokeWidth":7.6,"strokeCap":"round","strokeDash":[0.01,10],"clip":true},"encoding":{"x":{"field":"x","type":"quantitative"},"y":{"field":"u","type":"quantitative"}}},
{"data":{"name":"st"},"mark":{"type":"line","color":"#dfe3f3","strokeWidth":9,"strokeCap":"round","strokeDash":[0.01,10],"clip":true},"encoding":{"x":{"field":"x","type":"quantitative"},"y":{"field":"f1","type":"quantitative"}}},
{"data":{"name":"st"},"mark":{"type":"line","color":"#0a1f7a","strokeWidth":7.6,"strokeCap":"round","strokeDash":[0.01,10],"clip":true},"encoding":{"x":{"field":"x","type":"quantitative"},"y":{"field":"f1","type":"quantitative"}}},
{"data":{"name":"st"},"mark":{"type":"line","color":"#dfe3f3","strokeWidth":9,"strokeCap":"round","strokeDash":[0.01,14],"clip":true},"encoding":{"x":{"field":"x","type":"quantitative"},"y":{"field":"f2","type":"quantitative"}}},
{"data":{"name":"st"},"mark":{"type":"line","color":"#0a1f7a","strokeWidth":7.6,"strokeCap":"round","strokeDash":[0.01,14],"clip":true},"encoding":{"x":{"field":"x","type":"quantitative"},"y":{"field":"f2","type":"quantitative"}}},
{"data":{"name":"pts"},"mark":{"type":"point","filled":true,"opacity":1,"stroke":"#f4f0fa","strokeWidth":0.6,"clip":true},"encoding":{"x":{"field":"x","type":"quantitative"},"y":{"field":"y","type":"quantitative"},"size":{"value":58},"color":{"field":"s","type":"nominal","scale":{"domain":["r","b"],"range":["#ee0a14","#0a1f7a"]},"legend":{"orient":"none","legendX":560,"legendY":7,"title":null,"fillColor":"white","strokeColor":"#e0e0e0","cornerRadius":3,"padding":6,"rowPadding":6,"labelFont":"Liberation Sans","labelFontSize":22.7,"labelFontWeight":"bold","labelColor":"#3a3a3a","labelLimit":600,"labelOffset":18,"symbolStrokeWidth":0,"symbolSize":50,"labelExpr":"datum.value=='r'?'Scan 5,3GHz/s, Lock, MOSA Sim, HP 7mHz filter,':'Scan 5,1GHz/s, Lock, MOSA Sim, HP 7mHz filter,'"}},"shape":{"field":"s","type":"nominal","scale":{"domain":["r","b"],"range":["square","circle"]},"legend":{"orient":"none","legendX":560,"legendY":7,"title":null,"fillColor":"white","strokeColor":"#e0e0e0","cornerRadius":3,"padding":6,"rowPadding":6,"labelFont":"Liberation Sans","labelFontSize":22.7,"labelFontWeight":"bold","labelColor":"#3a3a3a","labelLimit":600,"labelOffset":18,"symbolStrokeWidth":0,"symbolSize":50,"labelExpr":"datum.value=='r'?'Scan 5,3GHz/s, Lock, MOSA Sim, HP 7mHz filter,':'Scan 5,1GHz/s, Lock, MOSA Sim, HP 7mHz filter,'"}}}},
{"data":{"name":"dec"},"mark":{"type":"text","font":"Liberation Sans","fontWeight":"bold","fontSize":24,"color":"#333333","align":"center","baseline":"middle"},"encoding":{"x":{"field":"sx","type":"quantitative"},"y":{"field":"sy","type":"quantitative"},"text":{"field":"t"}}},
{"data":{"values":[{"a":0.154,"b":1.97,"c":2.37e-2,"d":5e-4},{"a":4.789,"b":8.981,"c":2.59e-3,"d":5.8e-4},{"a":9.479,"b":11.3,"c":2.14e-2,"d":1.14e-3}]},"mark":{"type":"rect","fill":"white","stroke":"#8e6fc4","strokeWidth":1.2},"encoding":{"x":{"field":"a","type":"quantitative"},"x2":{"field":"b"},"y":{"field":"c","type":"quantitative"},"y2":{"field":"d"}}},
{"data":{"values":[{"x":0.328,"y":1.315e-2,"t":"fractional"},{"x":0.328,"y":5.42e-3,"t":"residual"},{"x":0.328,"y":2.24e-3,"t":"stray light"},{"x":0.328,"y":9.23e-4,"t":"signal noise"}]},"mark":{"type":"text","font":"Lato","fontWeight":"bold","fontSize":32,"color":"black","align":"left","baseline":"middle","dy":2},"encoding":{"x":{"field":"x","type":"quantitative"},"y":{"field":"y","type":"quantitative"},"text":{"field":"t"}}},
{"data":{"values":[{"x":4.906,"y":1.21e-3,"t":"Measurement noise floor"}]},"mark":{"type":"text","font":"Lato","fontWeight":"bold","fontSize":43.5,"color":"black","align":"left","baseline":"middle","dy":3},"encoding":{"x":{"field":"x","type":"quantitative"},"y":{"field":"y","type":"quantitative"},"text":{"field":"t"}}},
{"data":{"values":[{"x":2.325,"y":2.39e-4,"t":"5.1 GHz/s frequency-scanned laser over 100s"}]},"mark":{"type":"text","font":"Lato","fontWeight":"bold","fontSize":35.4,"color":"#bf9000","align":"left","baseline":"middle","dy":2},"encoding":{"x":{"field":"x","type":"quantitative"},"y":{"field":"y","type":"quantitative"},"text":{"field":"t"}}},
{"data":{"values":[{"x":4.757,"y":3.82e-5,"t":"stray reflections in fibered components"},{"x":2.562,"y":7.23e-6,"t":"stray modulation in"},{"x":2.602,"y":3.68e-6,"t":"the laser source"}]},"mark":{"type":"text","font":"Lato","fontWeight":"bold","fontSize":25,"color":"black","align":"left","baseline":"middle","dy":2},"encoding":{"x":{"field":"x","type":"quantitative"},"y":{"field":"y","type":"quantitative"},"text":{"field":"t"}}},
{"data":{"values":[{"x":7.149,"y":6.7e-8,"t":"dark signal (à venir!)"}]},"mark":{"type":"text","font":"Lato","fontWeight":"bold","fontSize":33,"color":"#ffff00","align":"left","baseline":"middle","dy":3},"encoding":{"x":{"field":"x","type":"quantitative"},"y":{"field":"y","type":"quantitative"},"text":{"field":"t"}}},
{"data":{"values":[{"x":9.59,"y":1.21e-2,"t":"fractional"},{"x":9.59,"y":4.99e-3,"t":"stray light"},{"x":9.59,"y":2.06e-3,"t":"power"}]},"mark":{"type":"text","font":"Lato","fontWeight":"bold","fontSize":32,"color":"#c00000","align":"left","baseline":"middle","dy":2},"encoding":{"x":{"field":"x","type":"quantitative"},"y":{"field":"y","type":"quantitative"},"text":{"field":"t"}}},
{"data":{"values":[{"x":10.489,"y":2.34e-4,"t":"10"},{"x":10.434,"y":2.56e-5,"t":"10"},{"x":10.434,"y":2.57e-6,"t":"10"},{"x":10.411,"y":2.64e-7,"t":"10"}]},"mark":{"type":"text","font":"Lato","fontWeight":"bold","fontSize":28,"color":"#c00000","align":"left","baseline":"middle","dy":2},"encoding":{"x":{"field":"x","type":"quantitative"},"y":{"field":"y","type":"quantitative"},"text":{"field":"t"}}},
{"data":{"values":[{"x":10.73,"y":2.77e-4,"t":"-8"},{"x":10.67,"y":3.03e-5,"t":"-10"},{"x":10.67,"y":3.05e-6,"t":"-12"},{"x":10.655,"y":3.26e-7,"t":"-14"}]},"mark":{"type":"text","font":"Lato","fontWeight":"bold","fontSize":20,"color":"#c00000","align":"left","baseline":"middle"},"encoding":{"x":{"field":"x","type":"quantitative"},"y":{"field":"y","type":"quantitative"},"text":{"field":"t"}}},
{"data":{"values":[{"x":10.434,"y":2.7e-8,"t":"10"}]},"mark":{"type":"text","font":"Lato","fontWeight":"bold","fontSize":28,"color":"#ffc4c4","align":"left","baseline":"middle","dy":2},"encoding":{"x":{"field":"x","type":"quantitative"},"y":{"field":"y","type":"quantitative"},"text":{"field":"t"}}},
{"data":{"values":[{"x":10.67,"y":3.2e-8,"t":"-16"}]},"mark":{"type":"text","font":"Lato","fontWeight":"bold","fontSize":20,"color":"#ffc4c4","align":"left","baseline":"middle"},"encoding":{"x":{"field":"x","type":"quantitative"},"y":{"field":"y","type":"quantitative"},"text":{"field":"t"}}},
{"data":{"values":[{"a":10.9,"b":11.01,"y":2.07e-4},{"a":10.9,"b":11.01,"y":2.2e-5},{"a":10.9,"b":11.01,"y":2.2e-6},{"a":10.9,"b":11.01,"y":2.27e-7}]},"mark":{"type":"rule","color":"#c00000","strokeWidth":3},"encoding":{"x":{"field":"a","type":"quantitative"},"x2":{"field":"b"},"y":{"field":"y","type":"quantitative"}}},
{"data":{"values":[{"a":4.56,"b":2.87,"c":3.15e-5,"d":1.67e-5},{"a":5.26,"b":5.09,"c":1.67e-5,"d":4.6e-6},{"a":7.62,"b":7.93,"c":1.8e-5,"d":5.3e-6}]},"mark":{"type":"rule","color":"#4472c4","strokeWidth":3.5},"encoding":{"x":{"field":"a","type":"quantitative"},"x2":{"field":"b"},"y":{"field":"c","type":"quantitative"},"y2":{"field":"d"}}},
{"data":{"values":[{"x":2.81,"y":1.6e-5}]},"mark":{"type":"point","shape":"triangle-up","filled":true,"opacity":1,"color":"#4472c4","size":110,"angle":262},"encoding":{"x":{"field":"x","type":"quantitative"},"y":{"field":"y","type":"quantitative"}}},
{"data":{"values":[{"x":5.07,"y":4.2e-6}]},"mark":{"type":"point","shape":"triangle-up","filled":true,"opacity":1,"color":"#4472c4","size":110,"angle":200},"encoding":{"x":{"field":"x","type":"quantitative"},"y":{"field":"y","type":"quantitative"}}},
{"data":{"values":[{"x":7.96,"y":4.7e-6}]},"mark":{"type":"point","shape":"triangle-up","filled":true,"opacity":1,"color":"#4472c4","size":110,"angle":145},"encoding":{"x":{"field":"x","type":"quantitative"},"y":{"field":"y","type":"quantitative"}}},
{"data":{"values":[{"a":4.16,"b":4.46,"c":3.3e-6,"d":1.85e-6}]},"mark":{"type":"rule","color":"black","strokeWidth":3},"encoding":{"x":{"field":"a","type":"quantitative"},"x2":{"field":"b"},"y":{"field":"c","type":"quantitative"},"y2":{"field":"d"}}},
{"data":{"values":[{"x":4.5,"y":1.75e-6}]},"mark":{"type":"point","shape":"triangle-up","filled":true,"opacity":1,"color":"black","size":90,"angle":131},"encoding":{"x":{"field":"x","type":"quantitative"},"y":{"field":"y","type":"quantitative"}}},
{"data":{"values":[{"a":0.225,"c":1.6e-2,"d":6.9e-4}]},"mark":{"type":"rule","color":"black","strokeWidth":6},"encoding":{"x":{"field":"a","type":"quantitative"},"y":{"field":"c","type":"quantitative"},"y2":{"field":"d"}}},
{"data":{"values":[{"x":0.225,"y":1.8e-2}]},"mark":{"type":"point","shape":"triangle-up","filled":true,"opacity":1,"color":"black","size":300},"encoding":{"x":{"field":"x","type":"quantitative"},"y":{"field":"y","type":"quantitative"}}},
{"data":{"values":[{"a":10.98,"c":1.3e-2,"d":1.38e-3}]},"mark":{"type":"rule","color":"#c00000","strokeWidth":6},"encoding":{"x":{"field":"a","type":"quantitative"},"y":{"field":"c","type":"quantitative"},"y2":{"field":"d"}}},
{"data":{"values":[{"x":10.98,"y":1.46e-2}]},"mark":{"type":"point","shape":"triangle-up","filled":true,"opacity":1,"color":"#c00000","size":300},"encoding":{"x":{"field":"x","type":"quantitative"},"y":{"field":"y","type":"quantitative"}}}
]}
